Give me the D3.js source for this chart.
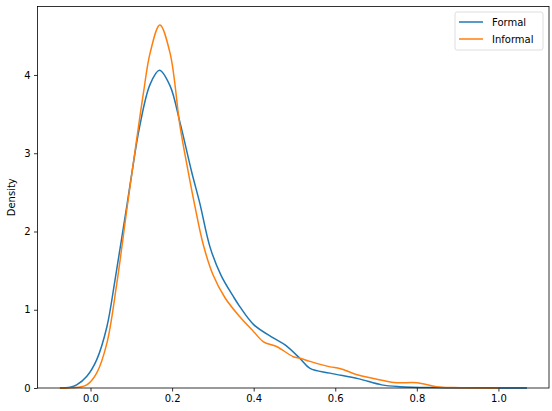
<!DOCTYPE html>
<html>
    <head>
		<meta charset="utf-8">
		<script src="https://cdn.jsdelivr.net/npm/d3@7"></script>
        <style>
            body { margin: 0; background: white; }
            text { font-family: "DejaVu Sans", sans-serif; }
        </style>
        <script>
            // series: x values and density values
            const formalX = [-0.075, -0.05, -0.034, -0.009, 0.015, 0.04, 0.06, 0.076, 0.09, 0.10, 0.12, 0.146, 0.169, 0.195, 0.219, 0.248, 0.268, 0.293, 0.32, 0.35, 0.366, 0.40, 0.448, 0.477, 0.513, 0.538, 0.587, 0.656, 0.714, 0.759, 0.84, 0.95, 1.07];
            const formalY = [0, 0.01, 0.04, 0.15, 0.36, 0.78, 1.38, 1.90, 2.36, 2.70, 3.33, 3.88, 4.06, 3.86, 3.40, 2.76, 2.36, 1.80, 1.44, 1.17, 1.04, 0.81, 0.64, 0.55, 0.38, 0.25, 0.19, 0.12, 0.04, 0.017, 0.005, 0.002, 0];

            const informalX = [-0.075, -0.03, -0.009, 0.015, 0.04, 0.064, 0.09, 0.11, 0.13, 0.146, 0.170, 0.195, 0.219, 0.236, 0.256, 0.276, 0.30, 0.33, 0.366, 0.40, 0.424, 0.456, 0.497, 0.513, 0.538, 0.587, 0.611, 0.656, 0.714, 0.75, 0.80, 0.848, 0.89, 1.0];
            const informalY = [0, 0.01, 0.04, 0.19, 0.57, 1.32, 2.32, 3.06, 3.78, 4.28, 4.64, 4.28, 3.36, 2.86, 2.32, 1.84, 1.45, 1.15, 0.91, 0.72, 0.59, 0.53, 0.40, 0.38, 0.34, 0.27, 0.25, 0.166, 0.10, 0.068, 0.068, 0.017, 0.005, 0];

            const seriesNames = ["Formal", "Informal"];
            const seriesColors = ["#1f77b4", "#ff7f0e"];
            const xTicks = [0.0, 0.2, 0.4, 0.6, 0.8, 1.0];
            const yTicks = [0, 1, 2, 3, 4];

            function makeSVG() {

				var svg = d3.select("#fig");

				const margin = { left: 37.5, top: 6.5, right: 3, bottom: 23 };
				const width = +svg.attr("width");
				const height = +svg.attr("height");

				const xSc = d3.scaleLinear()
				              .domain([-0.13, 1.124])
				              .range([margin.left, width - margin.right]);

				const ySc = d3.scaleLinear()
				              .domain([0, 4.875])
				              .range([height - margin.bottom, margin.top]);

				// X axis
				var xg = svg.append("g")
				            .attr("transform", `translate(0,${height - margin.bottom})`)
				            .call(d3.axisBottom(xSc).tickValues(xTicks).tickFormat(d3.format(".1f"))
				                    .tickSizeInner(3.5).tickSizeOuter(0).tickPadding(3.5));

				// Y axis
				var yg = svg.append("g")
				            .attr("transform", `translate(${margin.left},0)`)
				            .call(d3.axisLeft(ySc).tickValues(yTicks).tickFormat(d3.format("d"))
				                    .tickSizeInner(3.5).tickSizeOuter(0).tickPadding(3.5));

				svg.selectAll(".tick text").attr("font-size", 10).attr("fill", "black")
				   .style("font-family", "DejaVu Sans");
				svg.selectAll(".tick line").attr("stroke", "black").attr("stroke-width", 0.8);
				svg.selectAll(".domain").remove();

				svg.append("text")
				   .attr("transform", `translate(15,${(margin.top + height - margin.bottom) / 2}) rotate(-90)`)
				   .attr("text-anchor", "middle")
				   .attr("font-size", 10)
				   .text("Density");

				// Lines
				const data = [
				    d3.zip(formalX, formalY),
				    d3.zip(informalX, informalY)
				];

				var lnMkr = d3.line()
				              .x(d => xSc(d[0]))
				              .y(d => ySc(Math.max(0, d[1])))
				              .curve(d3.curveCatmullRom.alpha(0.5));

				svg.selectAll("path.kde")
				   .data(data)
				   .enter()
				   .append("path")
				   .attr("class", "kde")
				   .attr("d", d => lnMkr(d))
				   .attr("fill", "none")
				   .attr("stroke", (d, i) => seriesColors[i])
				   .attr("stroke-width", 1.5);

				// Frame
				svg.append("rect")
				   .attr("x", margin.left)
				   .attr("y", margin.top)
				   .attr("width", width - margin.left - margin.right)
				   .attr("height", height - margin.top - margin.bottom)
				   .attr("fill", "none")
				   .attr("stroke", "black")
				   .attr("stroke-width", 0.8);

				// Legend
				var lg = svg.append("g").attr("transform", "translate(455,12)");
				lg.append("rect")
				  .attr("width", 88).attr("height", 38).attr("rx", 2)
				  .attr("fill", "white").attr("stroke", "#d6d6d6").attr("stroke-width", 0.8);

				seriesNames.forEach((name, i) => {
				    const yy = 10 + i * 17;
				    lg.append("line")
				      .attr("x1", 4).attr("x2", 28)
				      .attr("y1", yy).attr("y2", yy)
				      .attr("stroke", seriesColors[i]).attr("stroke-width", 1.5);
				    lg.append("text")
				      .attr("x", 37).attr("y", yy + 3.6)
				      .attr("font-size", 10)
				      .text(name);
				});
            }
        </script>
    </head>
    <body onload="makeSVG()">

        <svg id="fig" width="552" height="411"></svg>

    </body>
</html>
